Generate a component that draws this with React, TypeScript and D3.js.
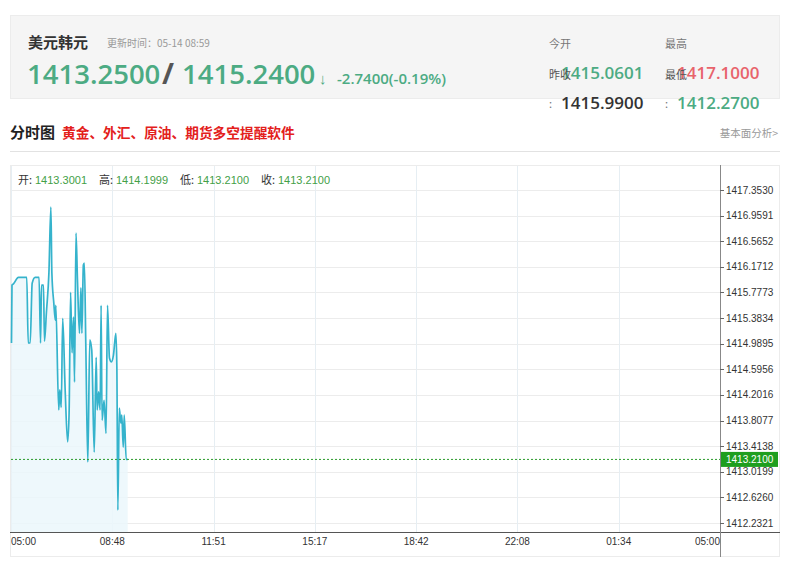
import React from 'react';
import * as d3 from 'd3';

// minutes since 05:00
const times = [1, 2, 5, 15, 32, 35, 39, 43, 49, 57, 60, 62, 66, 68, 72, 77, 81, 83, 87, 90, 91, 97, 99, 102, 105, 110, 115, 118, 121, 124, 127, 129, 132, 135, 139, 142, 144, 147, 149, 152, 156, 160, 164, 169, 173, 175, 178, 181, 183, 185, 189, 193, 196, 200, 204, 208, 213, 215, 217, 220, 223, 225, 228, 230, 234, 237];
const prices = [1415.00, 1415.89, 1415.91, 1416.01, 1416.01, 1415.00, 1415.00, 1415.92, 1416.01, 1416.01, 1415.00, 1415.89, 1415.89, 1415.03, 1415.48, 1416.08, 1417.09, 1416.08, 1415.61, 1415.35, 1415.58, 1413.97, 1414.28, 1414.01, 1415.38, 1414.28, 1413.48, 1413.92, 1415.78, 1414.85, 1415.40, 1414.40, 1416.69, 1415.97, 1415.15, 1415.85, 1415.15, 1416.20, 1416.23, 1414.94, 1413.17, 1415.05, 1414.89, 1413.32, 1414.78, 1413.97, 1414.25, 1413.97, 1415.58, 1413.81, 1414.12, 1413.61, 1415.58, 1414.77, 1414.71, 1414.81, 1415.15, 1414.63, 1412.43, 1414.00, 1413.77, 1413.89, 1413.40, 1413.89, 1413.21, 1413.21];

const yTicks = [1417.3530, 1416.9591, 1416.5652, 1416.1712, 1415.7773, 1415.3834, 1414.9895, 1414.5956, 1414.2016, 1413.8077, 1413.4138, 1413.0199, 1412.6260, 1412.2321];
const xTickLabels = ['05:00', '08:48', '11:51', '15:17', '18:42', '22:08', '01:34', '05:00'];
const ohlcLabels = ['开', '高', '低', '收'];
const ohlcValues = ['1413.3001', '1414.1999', '1413.2100', '1413.2100'];
const lastPrice = 1413.21;
const bid = '1413.2500';
const ask = '1415.2400';
const change = '-2.7400(-0.19%)';
const todayOpen = '1415.0601';
const prevClose = '1415.9900';
const high = '1417.1000';
const low = '1412.2700';

const CJK = '"Noto Sans CJK SC", sans-serif';
const OPEN = '"Open Sans", "Noto Sans", sans-serif';
const ARIAL = '"Liberation Sans", Arial, sans-serif';
const GREEN = '#4cab83';

export default function App() {
  const left = 11, right = 720, top = 190, bottom = 523, axisY = 532;
  const x = d3.scaleLinear().domain([0, 1440]).range([left, right]);
  const y = d3.scaleLinear().domain([yTicks[yTicks.length - 1], yTicks[0]]).range([bottom, top]);
  const xt = d3.scaleLinear().domain([0, xTickLabels.length - 1]).range([left, right]);
  const pts = times.map((t, i) => [t, prices[i]] as [number, number]);
  const line = d3.line<[number, number]>().x(d => x(d[0])).y(d => y(d[1])).curve(d3.curveMonotoneX);
  const area = d3.area<[number, number]>().x(d => x(d[0])).y0(axisY).y1(d => y(d[1])).curve(d3.curveMonotoneX);
  const ohlcX = [18, 99, 180, 261];
  const lastY = y(lastPrice);

  return (
    <svg width={800} height={574} style={{ position: 'absolute', left: 0, top: 0, background: '#fff' }}>
      {/* header box */}
      <rect x={10.5} y={15.5} width={769} height={83} fill="#f5f5f5" stroke="#ececec" />
      <text x={28} y={48} fontFamily={CJK} fontSize={15} fontWeight={700} fill="#333">美元韩元</text>
      <text x={107} y={47} fontFamily={CJK} fontSize={10} fill="#999">更新时间：05-14 08:59</text>
      <text x={27} y={84} fontFamily={OPEN} fontSize={27.5} fontWeight={600} fill={GREEN}>{bid}</text>
      <text x={162} y={84} fontFamily={OPEN} fontSize={29} fontWeight={700} fill="#555">/</text>
      <text x={182} y={84} fontFamily={OPEN} fontSize={27.5} fontWeight={600} fill={GREEN}>{ask}</text>
      <text x={319} y={84} fontFamily={OPEN} fontSize={15} fontWeight={600} fill={GREEN}>↓</text>
      <text x={337} y={84} fontFamily={OPEN} fontSize={15} fontWeight={600} fill={GREEN}>{change}</text>

      <text x={549} y={48} fontFamily={CJK} fontSize={11} fill="#777">今开</text>
      <text x={665} y={48} fontFamily={CJK} fontSize={11} fill="#777">最高</text>
      <text x={561} y={79} fontFamily={OPEN} fontSize={17} fontWeight={600} fill={GREEN}>{todayOpen}</text>
      <text x={549} y={79} fontFamily={CJK} fontSize={11} fill="#555">昨收</text>
      <text x={677} y={79} fontFamily={OPEN} fontSize={17} fontWeight={600} fill="#e8636b">{high}</text>
      <text x={665} y={79} fontFamily={CJK} fontSize={11} fill="#555">最低</text>
      <text x={549} y={108} fontFamily={CJK} fontSize={11} fill="#777">:</text>
      <text x={561} y={109} fontFamily={OPEN} fontSize={17} fontWeight={600} fill="#333">{prevClose}</text>
      <text x={665} y={108} fontFamily={CJK} fontSize={11} fill="#777">:</text>
      <text x={677} y={109} fontFamily={OPEN} fontSize={17} fontWeight={600} fill={GREEN}>{low}</text>

      {/* section title */}
      <text x={10} y={138} fontFamily={CJK} fontSize={15} fontWeight={700} fill="#222">分时图</text>
      <text x={62} y={138} fontFamily={CJK} fontSize={13.7} fontWeight={700} fill="#e3201b">黄金、外汇、原油、期货多空提醒软件</text>
      <text x={778} y={137} textAnchor="end" fontFamily={CJK} fontSize={10.5} fill="#999">基本面分析&gt;</text>
      <line x1={10} x2={780} y1={151.5} y2={151.5} stroke="#e2e2e2" />

      {/* chart box */}
      <rect x={10.5} y={165.5} width={769} height={391} fill="#fff" stroke="#ececec" />

      {/* grid */}
      {yTicks.map((v, i) => (
        <line key={'h' + i} x1={left} x2={right} y1={Math.round(y(v)) + 0.5} y2={Math.round(y(v)) + 0.5} stroke="#ececec" />
      ))}
      {xTickLabels.map((_, i) => (
        <line key={'v' + i} x1={Math.round(xt(i)) + 0.5} x2={Math.round(xt(i)) + 0.5} y1={166} y2={axisY} stroke="#e6eef3" />
      ))}

      {/* OHLC row */}
      {ohlcLabels.map((l, i) => (
        <g key={'o' + i}>
          <text x={ohlcX[i]} y={184} fontFamily={CJK} fontSize={11} fill="#333">{l}:</text>
          <text x={ohlcX[i] + 17} y={184} fontFamily={ARIAL} fontSize={11} fill="#43a047">{ohlcValues[i]}</text>
        </g>
      ))}

      {/* series */}
      <path d={area(pts) || ''} fill="#ebf7fc" fillOpacity={0.85} />
      <path d={line(pts) || ''} fill="none" stroke="#35b3cc" strokeWidth={1.7} strokeLinejoin="round" />

      {/* last price line */}
      <line x1={left} x2={right} y1={lastY} y2={lastY} stroke="#2a9a2a" strokeWidth={1} strokeDasharray="2,2" />

      {/* axes */}
      <line x1={10} x2={780} y1={axisY + 0.5} y2={axisY + 0.5} stroke="#555" />
      <line x1={720.5} x2={720.5} y1={165} y2={557} stroke="#888" />
      {yTicks.map((v, i) => (
        <g key={'yt' + i}>
          <line x1={720} x2={724} y1={Math.round(y(v)) + 0.5} y2={Math.round(y(v)) + 0.5} stroke="#666" />
          <text x={726} y={y(v)} dy="0.35em" fontFamily={ARIAL} fontSize={10} fill="#333">{v.toFixed(4)}</text>
        </g>
      ))}
      <rect x={721} y={lastY - 7.5} width={57} height={15} fill="#1e9e1e" />
      <text x={726} y={lastY} dy="0.35em" fontFamily={ARIAL} fontSize={10} fill="#fff">{lastPrice.toFixed(4)}</text>

      {xTickLabels.map((l, i) => (
        <text key={'xt' + i} x={xt(i)} y={545}
          textAnchor={i === 0 ? 'start' : i === xTickLabels.length - 1 ? 'end' : 'middle'}
          fontFamily={ARIAL} fontSize={10} fill="#333">{l}</text>
      ))}
    </svg>
  );
}
